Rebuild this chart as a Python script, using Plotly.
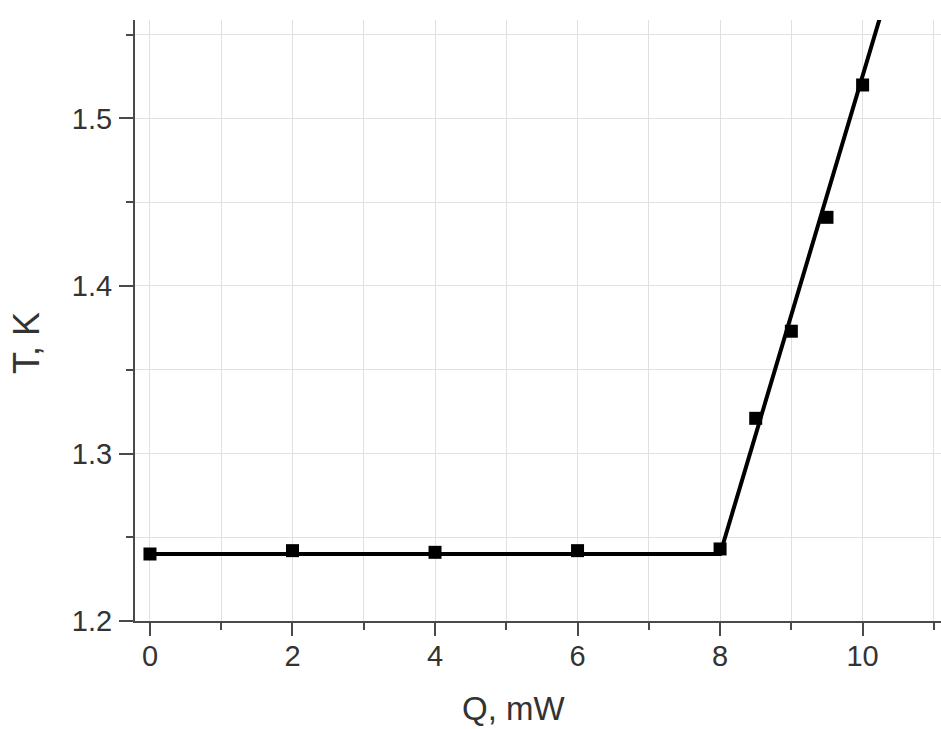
import plotly.graph_objects as go

# Measured points: heater power Q (mW) vs temperature T (K)
q_mw = [0, 2, 4, 6, 8, 8.5, 9, 9.5, 10]
t_k = [1.240, 1.242, 1.241, 1.242, 1.243, 1.321, 1.373, 1.441, 1.520]

# Two-segment guide line: plateau then linear rise
fit_q = [0, 8, 10.27]
fit_t = [1.240, 1.240, 1.564]

x_ticks = [0, 2, 4, 6, 8, 10]
y_ticks = [1.2, 1.3, 1.4, 1.5]

FONT = "Liberation Sans, Arial, sans-serif"
AX = "#4a4a4a"
GRID = "#e0e0e0"
TXT = "#333333"

fig = go.Figure()
fig.add_trace(go.Scatter(x=fit_q, y=fit_t, mode="lines",
                         line=dict(color="black", width=4), showlegend=False))
fig.add_trace(go.Scatter(x=q_mw, y=t_k, mode="markers",
                         marker=dict(symbol="square", size=13, color="black"),
                         showlegend=False, cliponaxis=False))

axis_common = dict(
    showline=True, linecolor=AX, linewidth=2,
    ticks="outside", tickcolor=AX, tickwidth=2,
    showgrid=True, gridcolor=GRID, gridwidth=1,
    zeroline=False, mirror=False,
    tickfont=dict(family=FONT, size=29, color=TXT),
)

fig.update_xaxes(range=[-0.21, 11.1], tickvals=x_ticks, ticklen=13,
                 minor=dict(dtick=1, tick0=0, ticks="outside", ticklen=7,
                            tickcolor=AX, tickwidth=2, showgrid=True,
                            gridcolor=GRID, gridwidth=1),
                 ticklabelstandoff=-5, **axis_common)
fig.update_yaxes(range=[1.2, 1.5588], tickvals=y_ticks, tickformat=".1f",
                 ticklen=14,
                 minor=dict(dtick=0.05, tick0=1.2, ticks="outside", ticklen=7,
                            tickcolor=AX, tickwidth=2, showgrid=True,
                            gridcolor=GRID, gridwidth=1),
                 ticklabelstandoff=1, **axis_common)

fig.update_layout(
    width=941, height=729,
    margin=dict(l=135, r=0, t=20, b=108),
    paper_bgcolor="white", plot_bgcolor="white",
    annotations=[
        dict(text="Q, mW", xref="paper", yref="paper", x=0.469, y=-0.145,
             showarrow=False, xanchor="center", yanchor="middle",
             font=dict(family=FONT, size=33, color=TXT)),
        dict(text="T, K", xref="paper", yref="paper", x=-0.134, y=0.4626,
             showarrow=False, xanchor="center", yanchor="middle", textangle=-90,
             font=dict(family=FONT, size=36, color=TXT)),
    ],
)

fig.write_html("out.html")
